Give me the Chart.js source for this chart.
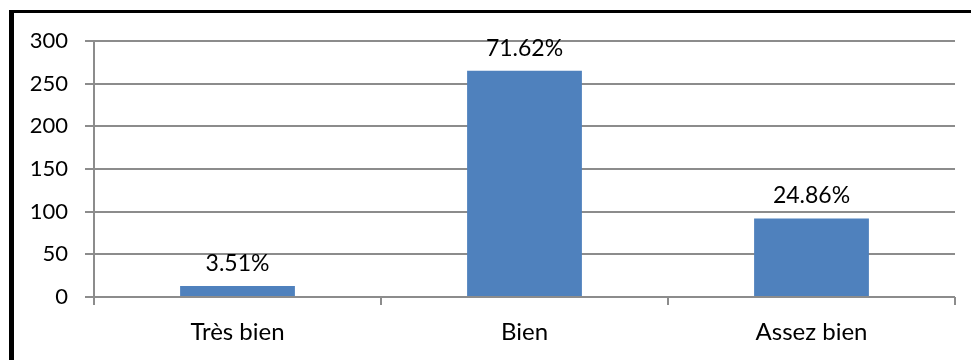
<!DOCTYPE html>
<html>
<head>
<meta charset="utf-8">
<script src="https://cdn.jsdelivr.net/npm/chart.js@4"></script>
<style>
  html, body { margin: 0; padding: 0; background: #fff; }
  #wrap { position: relative; width: 971px; height: 360px; overflow: hidden; }
  #frame { position: absolute; left: 9px; top: 10px; width: 1000px; height: 400px;
           border-left: 5px solid #000; border-top: 3px solid #000; box-sizing: border-box; }
  canvas { position: absolute; left: 0; top: 0; }
</style>
</head>
<body>
<div id="wrap">
  <div id="frame"></div>
  <canvas id="barChart" width="971" height="360"></canvas>
</div>
<script>
// categories and counts
var mentions = ['Très bien', 'Bien', 'Assez bien'];
var effectifs = [13, 265, 92];
var yTicks = [0, 50, 100, 150, 200, 250, 300];

var total = effectifs.reduce(function (a, b) { return a + b; }, 0);

// percentage written above each bar
var pourcentLabels = {
  id: 'pourcentLabels',
  afterDatasetsDraw: function (chart) {
    var ctx = chart.ctx;
    var meta = chart.getDatasetMeta(0);
    ctx.save();
    ctx.font = '23px Lato';
    ctx.fillStyle = '#000';
    ctx.textAlign = 'center';
    ctx.textBaseline = 'alphabetic';
    meta.data.forEach(function (bar, i) {
      var pct = (effectifs[i] / total * 100).toFixed(2) + '%';
      ctx.fillText(pct, bar.x, bar.y - 15);
    });
    ctx.restore();
  }
};

var ctx = document.getElementById('barChart').getContext('2d');
new Chart(ctx, {
  type: 'bar',
  data: {
    labels: mentions,
    datasets: [{
      data: effectifs,
      backgroundColor: '#4F81BD',
      borderWidth: 0,
      categoryPercentage: 0.8,
      barPercentage: 0.5
    }]
  },
  options: {
    responsive: false,
    animation: false,
    layout: { padding: { left: 20, top: 41, right: 16, bottom: 0 } },
    plugins: { legend: { display: false }, tooltip: { enabled: false } },
    scales: {
      x: {
        offset: true,
        grid: { offset: true, drawOnChartArea: false, drawTicks: true, tickLength: 8, color: '#8c8c8c', lineWidth: 2 },
        border: { display: false },
        ticks: { color: '#000', font: { family: 'Lato', size: 24 }, padding: 13 },
        afterFit: function (scale) { scale.height = 63; }
      },
      y: {
        min: 0,
        max: 300,
        afterBuildTicks: function (scale) {
          scale.ticks = yTicks.map(function (v) { return { value: v }; });
        },
        grid: { color: '#8c8c8c', lineWidth: 2, tickLength: 9 },
        border: { display: true, color: '#8c8c8c', width: 2 },
        ticks: { color: '#000', font: { family: 'Lato', size: 22 }, padding: 17 },
        afterFit: function (scale) { scale.width = 74; }
      }
    }
  },
  plugins: [pourcentLabels]
});
</script>
</body>
</html>
